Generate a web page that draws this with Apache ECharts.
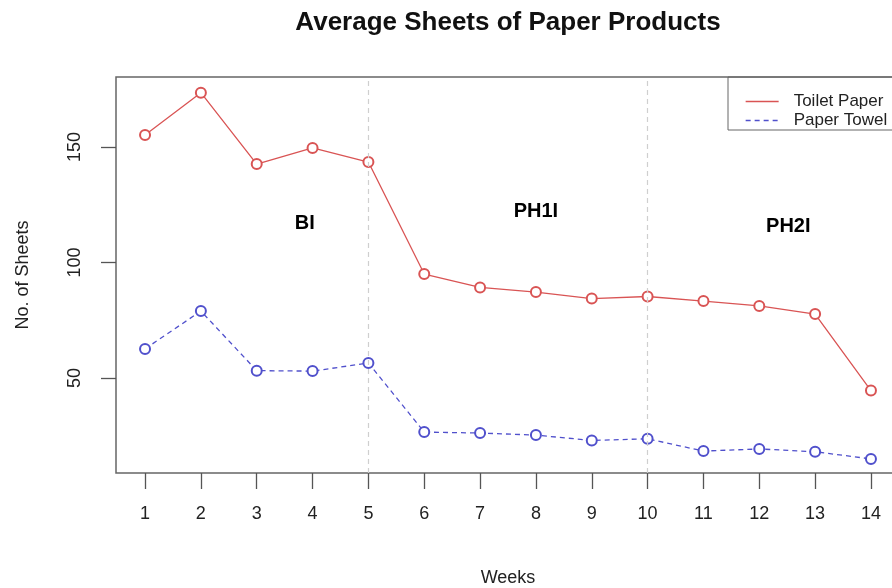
<!DOCTYPE html>
<html>
<head>
<meta charset="utf-8">
<script src="https://cdn.jsdelivr.net/npm/echarts@6/dist/echarts.min.js"></script>
<style>
  html, body { margin: 0; padding: 0; background: #fff; }
  #chart { width: 892px; height: 588px; }
</style>
</head>
<body>
<div id="chart"></div>
<script>
// data
const weeks = [1, 2, 3, 4, 5, 6, 7, 8, 9, 10, 11, 12, 13, 14];
const toiletPaper = [155.2, 173.5, 142.6, 149.6, 143.5, 95.0, 89.2, 87.2, 84.4, 85.3, 83.3, 81.2, 77.7, 44.6];
const paperTowel = [62.6, 79.0, 53.2, 53.0, 56.5, 26.6, 26.2, 25.3, 23.0, 23.7, 18.4, 19.3, 18.1, 15.0];
const yTicks = [50, 100, 150];
const phaseBreaks = [5, 10];
const phaseLabels = [
  [3.86, 117, 'BI'],
  [8.0, 122, 'PH1I'],
  [12.52, 115.4, 'PH2I']
];

const colors = ['#d95454', '#5050cc'];
const font = 'Liberation Sans, Arial, sans-serif';

var myChart = echarts.init(document.getElementById('chart'));
myChart.setOption({
  animation: false,
  color: colors,
  title: {
    text: 'Average Sheets of Paper Products',
    left: 508,
    top: 10,
    padding: 0,
    textAlign: 'center',
    textStyle: { fontFamily: font, fontSize: 26, fontWeight: 'bold', color: '#111' }
  },
  legend: {
    orient: 'vertical',
    left: 728,
    top: 77,
    padding: [16, 20, 1, 17],
    itemWidth: 33,
    itemHeight: 10,
    itemGap: 2,
    borderColor: '#666',
    borderWidth: 1,
    itemStyle: { opacity: 0 },
    lineStyle: { width: 1.3 },
    textStyle: { fontFamily: font, fontSize: 17, color: '#222', lineHeight: 16, padding: [0, 0, 0, 10] },
    data: ['Toilet Paper', 'Paper Towel']
  },
  grid: {
    left: 116,
    top: 77,
    right: -8,
    bottom: 115,
    show: true,
    borderColor: '#666',
    borderWidth: 1.5,
    outerBoundsMode: 'none'
  },
  xAxis: {
    type: 'value',
    min: 0.48,
    max: 14.52,
    name: 'Weeks',
    nameLocation: 'middle',
    nameGap: 96,
    nameTextStyle: { fontFamily: font, fontSize: 18, color: '#222', verticalAlign: 'top' },
    axisLine: { show: false },
    axisTick: { show: true, length: 16, customValues: weeks, lineStyle: { color: '#555', width: 1.3 } },
    axisLabel: { customValues: weeks, margin: 32, fontFamily: font, fontSize: 18, color: '#222', verticalAlign: 'top' },
    splitLine: { show: false }
  },
  yAxis: {
    type: 'value',
    min: 8.9,
    max: 180.3,
    name: 'No. of Sheets',
    nameLocation: 'middle',
    nameRotate: 90,
    nameGap: 84,
    nameTextStyle: { fontFamily: font, fontSize: 18, color: '#222' },
    axisLine: { show: false },
    axisTick: { show: true, length: 15, customValues: yTicks, lineStyle: { color: '#555', width: 1.3 } },
    axisLabel: { customValues: yTicks, rotate: 90, margin: 32, fontFamily: font, fontSize: 18, color: '#222' },
    splitLine: { show: false }
  },
  series: [
    {
      name: 'Toilet Paper',
      type: 'line',
      data: weeks.map((w, i) => [w, toiletPaper[i]]),
      symbol: 'emptyCircle',
      symbolSize: 10,
      lineStyle: { width: 1.3, color: colors[0] },
      itemStyle: { color: colors[0], borderWidth: 1.3 },
      markLine: {
        silent: true,
        symbol: 'none',
        label: { show: false },
        lineStyle: { color: '#cfcfcf', type: [5, 4], width: 1.2 },
        data: phaseBreaks.map(v => ({ xAxis: v }))
      },
      z: 3
    },
    {
      name: 'Paper Towel',
      type: 'line',
      data: weeks.map((w, i) => [w, paperTowel[i]]),
      symbol: 'emptyCircle',
      symbolSize: 10,
      lineStyle: { width: 1.3, color: colors[1], type: [5, 4] },
      itemStyle: { color: colors[1], borderWidth: 1.3 },
      z: 3
    },
    {
      name: 'phases',
      type: 'scatter',
      symbol: 'circle',
      symbolSize: 2,
      silent: true,
      itemStyle: { color: 'rgba(0,0,0,0)' },
      data: phaseLabels.map(p => ({ value: [p[0], p[1]], name: p[2] })),
      label: {
        show: true,
        position: 'inside',
        formatter: '{b}',
        fontFamily: font,
        fontSize: 20,
        fontWeight: 'bold',
        color: '#000',
        opacity: 1,
        textBorderWidth: 0
      }
    }
  ]
});
window.onresize = function () {
  myChart.resize();
};
</script>
</body>
</html>
